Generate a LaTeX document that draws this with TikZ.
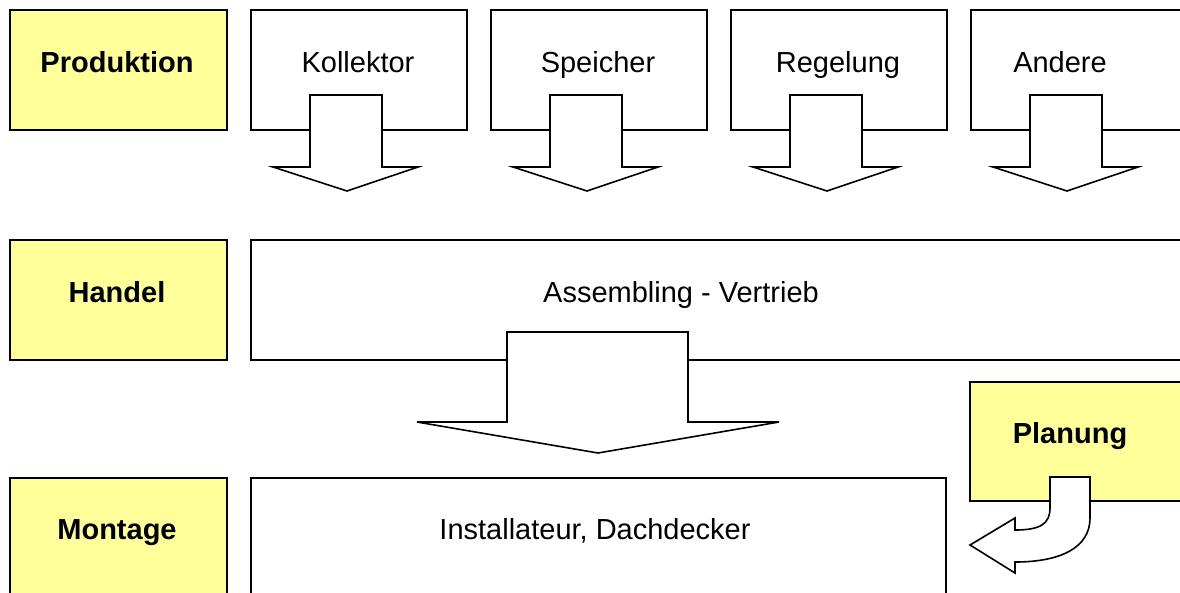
\documentclass[tikz,border=0pt]{standalone}
\usepackage{fontspec}
\setmainfont{Liberation Sans}
\definecolor{boxyellow}{HTML}{FFFF99}
\begin{document}
\begin{tikzpicture}[x=1pt,y=-1pt,
  frame/.style={draw=black,line width=1.6pt,fill=white,inner sep=0pt,anchor=north west},
  ybox/.style={frame,fill=boxyellow},
  blockarr/.style={draw=black,line width=1.6pt,fill=white,line join=miter},
  lbl/.style={anchor=base,font=\fontsize{29}{33}\selectfont,inner sep=0pt},
  blbl/.style={lbl,font=\fontsize{29}{33}\selectfont\bfseries}]
\useasboundingbox (0,0) rectangle (1180,592);
\clip (0,0) rectangle (1180,592);
\fill[white] (0,0) rectangle (1180,592);
% left column
\node[ybox,minimum width=217pt,minimum height=120pt] (prod) at (9,9) {};
\node[ybox,minimum width=217pt,minimum height=120pt] (hand) at (9,239) {};
\node[ybox,minimum width=217pt,minimum height=130pt] (mont) at (9,477) {};
\node[blbl] (tprod) at (117,72) {Produktion};
\node[blbl] (thand) at (117,302) {Handel};
\node[blbl] (tmont) at (117,539) {Montage};
% top boxes
\node[frame,minimum width=216pt,minimum height=120pt] (koll) at (250,9) {};
\node[frame,minimum width=216pt,minimum height=120pt] (spei) at (490,9) {};
\node[frame,minimum width=216pt,minimum height=120pt] (rege) at (730,9) {};
\node[frame,minimum width=240pt,minimum height=120pt] (ande) at (970,9) {};
\node[lbl] (tkoll) at (358,72) {Kollektor};
\node[lbl] (tspei) at (598,72) {Speicher};
\node[lbl] (trege) at (838,72) {Regelung};
\node[lbl] (tande) at (1060,72) {Andere};
% top block arrows
\foreach \x in {250,490,730,970}{
  \draw[blockarr] (\x+60,95) -- (\x+132,95) -- (\x+132,167) -- (\x+168,167)
    -- (\x+97,191) -- (\x+23,167) -- (\x+60,167) -- cycle;
}
% middle
\node[frame,minimum width=960pt,minimum height=120pt] (asse) at (250,239) {};
\node[lbl] (tasse) at (681,302) {Assembling - Vertrieb};
\draw[blockarr] (507,332) -- (688,332) -- (688,422) -- (779,422) -- (598,453)
  -- (417,422) -- (507,422) -- cycle;
% bottom
\node[frame,minimum width=695pt,minimum height=130pt] (inst) at (250,477) {};
\node[lbl] (tinst) at (595,539) {Installateur, Dachdecker};
\node[ybox,minimum width=240pt,minimum height=119pt] (plan) at (969,381) {};
\node[blbl] (tplan) at (1070,443) {Planung};
\draw[blockarr] (1050,477) -- (1090,477) -- (1090,518)
  .. controls (1090,548) and (1060,562) .. (1015,562) -- (1015,573) -- (970,545)
  -- (1015,518) -- (1015,530) .. controls (1040,530) and (1050,524) .. (1050,508) -- cycle;
\end{tikzpicture}
\end{document}
